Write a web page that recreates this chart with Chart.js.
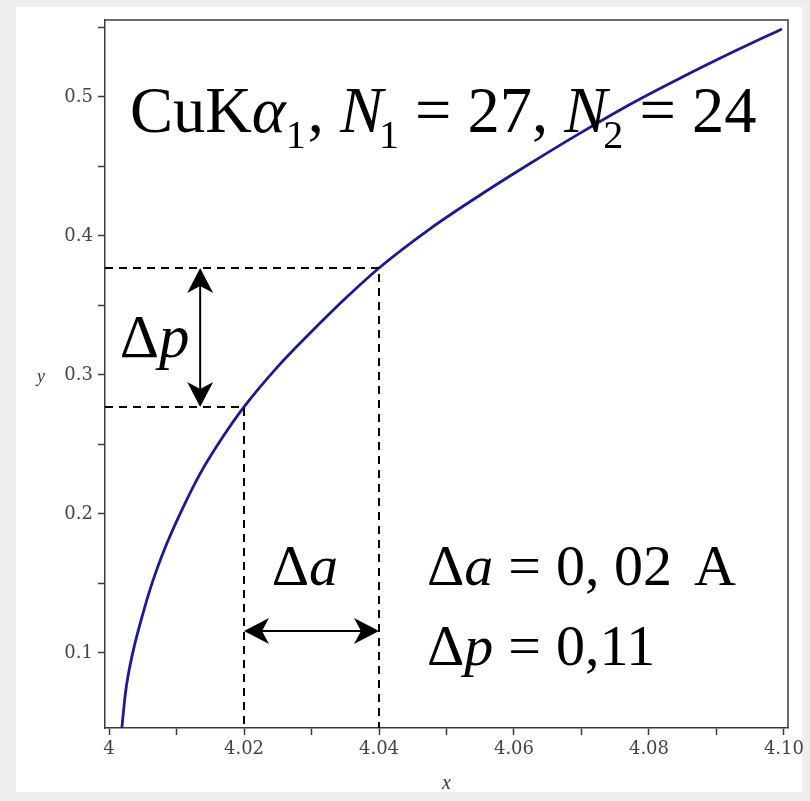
<!DOCTYPE html>
<html>
<head>
<meta charset="utf-8">
<script src="https://cdn.jsdelivr.net/npm/chart.js@4"></script>
<style>
  html, body { margin: 0; padding: 0; background: #eeeeee; }
  canvas { display: block; }
</style>
</head>
<body>
<canvas id="c" width="810" height="801"></canvas>
<script>
// p(a) curve for CuKα1, N1 = 27, N2 = 24
const curveX = [4.0019, 4.0024, 4.0028, 4.0036, 4.0050, 4.0065, 4.0085, 4.0108, 4.0135, 4.0166, 4.0200,
                4.0250, 4.0313, 4.0350, 4.0400, 4.0475, 4.0550, 4.0625, 4.0698, 4.0775, 4.0846, 4.0925, 4.0997];
const curveY = [0.046, 0.070, 0.083, 0.102, 0.128, 0.152, 0.178, 0.203, 0.229, 0.2535, 0.277,
                0.306, 0.3375, 0.355, 0.377, 0.405, 0.4295, 0.4525, 0.474, 0.4955, 0.5135, 0.5325, 0.549];

// axis ticks
const xMajorTicks = [4, 4.02, 4.04, 4.06, 4.08, 4.10];
const xTickLabels = ['4', '4.02', '4.04', '4.06', '4.08', '4.10'];
const xMinorTicks = [4.01, 4.03, 4.05, 4.07, 4.09];
const yMajorTicks = [0.1, 0.2, 0.3, 0.4, 0.5];
const yTickLabels = ['0.1', '0.2', '0.3', '0.4', '0.5'];
const yMinorTicks = [0.15, 0.25, 0.35, 0.45, 0.55];

// Δa interval and the p values it maps to on the curve
const deltaA = [4.02, 4.04];
const deltaP = [0.277, 0.377];

const xRange = [3.9994, 4.1006];
const yRange = [0.0460, 0.5554];

const SERIF = '"Liberation Serif", "Times New Roman", serif';
const TICK_FONT = '"DejaVu Serif", serif';

function labelFor(value, ticks, labels) {
  const i = ticks.findIndex(t => Math.abs(t - value) < 1e-9);
  return i >= 0 ? labels[i] : '';
}

function setTicks(majors, minors) {
  return scale => {
    scale.ticks = majors.concat(minors).sort((a, b) => a - b).map(v => ({ value: v }));
  };
}

// draw a run of text pieces: italic and subscript aware
function richText(ctx, x, y, parts, size) {
  let cx = x;
  ctx.textBaseline = 'alphabetic';
  ctx.textAlign = 'left';
  for (const p of parts) {
    const s = p.sub ? size * 0.62 : size;
    ctx.font = (p.i ? 'italic ' : '') + s + 'px ' + SERIF;
    const dy = p.sub ? size * 0.25 : 0;
    ctx.fillText(p.t, cx + (p.dx || 0), y + dy);
    cx += ctx.measureText(p.t).width + (p.dx || 0) + (p.gap || 0);
  }
}

function arrowHead(ctx, tx, ty, ang) {
  const len = 25, half = 13, notch = 18;
  const c = Math.cos(ang), s = Math.sin(ang);
  const pt = (along, across) => [tx - c * along - s * across, ty - s * along + c * across];
  ctx.beginPath();
  ctx.moveTo(tx, ty);
  ctx.lineTo(...pt(len, half));
  ctx.lineTo(...pt(notch, 0));
  ctx.lineTo(...pt(len, -half));
  ctx.closePath();
  ctx.fill();
}

function doubleArrow(ctx, x1, y1, x2, y2) {
  const ang = Math.atan2(y2 - y1, x2 - x1);
  ctx.save();
  ctx.strokeStyle = '#000';
  ctx.fillStyle = '#000';
  ctx.lineWidth = 2;
  ctx.beginPath();
  ctx.moveTo(x1 + Math.cos(ang) * 10, y1 + Math.sin(ang) * 10);
  ctx.lineTo(x2 - Math.cos(ang) * 10, y2 - Math.sin(ang) * 10);
  ctx.stroke();
  arrowHead(ctx, x2, y2, ang);
  arrowHead(ctx, x1, y1, ang + Math.PI);
  ctx.restore();
}

const framePlugin = {
  id: 'frame',
  beforeDraw(chart) {
    const ctx = chart.ctx;
    ctx.save();
    ctx.fillStyle = '#eeeeee';
    ctx.fillRect(0, 0, chart.width, chart.height);
    ctx.fillStyle = '#ffffff';
    ctx.fillRect(16, 7, 786, 785);
    ctx.restore();
  },
  afterDatasetsDraw(chart) {
    const ctx = chart.ctx;
    const xs = chart.scales.x, ys = chart.scales.y;
    const X = v => xs.getPixelForValue(v);
    const Y = v => ys.getPixelForValue(v);
    const a = chart.chartArea;

    // boxed frame: top and right edges
    ctx.save();
    ctx.strokeStyle = '#3a3a3a';
    ctx.lineWidth = 1.5;
    ctx.beginPath();
    ctx.moveTo(a.left, a.top);
    ctx.lineTo(a.right, a.top);
    ctx.lineTo(a.right, a.bottom);
    ctx.stroke();
    ctx.restore();

    // Δp and Δa arrows
    doubleArrow(ctx, X(4.0135), Y(deltaP[1]), X(4.0135), Y(deltaP[0]));
    doubleArrow(ctx, X(deltaA[0]), Y(0.1158), X(deltaA[1]), Y(0.1158));

    ctx.save();
    ctx.fillStyle = '#000';
    richText(ctx, X(4.0031), Y(0.4748), [
      { t: 'CuK' }, { t: 'α', i: true }, { t: '1', sub: true, gap: 2 }, { t: ', ' },
      { t: 'N', i: true }, { t: '1', sub: true, dx: -4 }, { t: ' = 27, ' },
      { t: 'N', i: true }, { t: '2', sub: true, dx: -4 }, { t: ' = 24' }
    ], 64.5);
    richText(ctx, X(4.0016), Y(0.3129), [{ t: 'Δ' }, { t: 'p', i: true }], 61);
    richText(ctx, X(4.0241), Y(0.149), [{ t: 'Δ' }, { t: 'a', i: true }], 58);
    richText(ctx, X(4.0471), Y(0.149), [
      { t: 'Δ' }, { t: 'a', i: true, gap: 15 }, { t: '=', gap: 15 }, { t: '0, 02', gap: 22 }, { t: 'A' }
    ], 58);
    richText(ctx, X(4.0471), Y(0.0914), [
      { t: 'Δ' }, { t: 'p', i: true, gap: 15 }, { t: '=', gap: 15 }, { t: '0,11' }
    ], 58);

    // y axis name beside the 0.3 label
    ctx.font = 'italic 18px ' + SERIF;
    ctx.fillStyle = '#3c3c3c';
    ctx.textAlign = 'center';
    ctx.textBaseline = 'middle';
    ctx.fillText('y', 41, Y(0.3) + 2);
    ctx.restore();
  }
};

const dashStyle = { borderColor: '#000', borderWidth: 2, borderDash: [8, 6], pointRadius: 0, showLine: true, fill: false };

new Chart(document.getElementById('c'), {
  type: 'scatter',
  data: {
    datasets: [
      Object.assign({ data: [{ x: xRange[0], y: deltaP[1] }, { x: deltaA[1], y: deltaP[1] }, { x: deltaA[1], y: yRange[0] }] }, dashStyle),
      Object.assign({ data: [{ x: xRange[0], y: deltaP[0] }, { x: deltaA[0], y: deltaP[0] }, { x: deltaA[0], y: yRange[0] }] }, dashStyle),
      {
        data: curveX.map((x, i) => ({ x, y: curveY[i] })),
        showLine: true,
        borderColor: '#1a1a96',
        borderWidth: 2.8,
        pointRadius: 0,
        cubicInterpolationMode: 'monotone',
        fill: false
      }
    ]
  },
  options: {
    responsive: false,
    devicePixelRatio: 1,
    animation: false,
    layout: { padding: { left: 0, right: 22, top: 20, bottom: 0 } },
    plugins: { legend: { display: false }, tooltip: { enabled: false } },
    scales: {
      x: {
        type: 'linear',
        min: xRange[0],
        max: xRange[1],
        afterBuildTicks: setTicks(xMajorTicks, xMinorTicks),
        afterFit: s => { s.height = 73; },
        grid: { drawOnChartArea: false, tickLength: 7, tickColor: '#3a3a3a', tickWidth: 1.5 },
        border: { color: '#3a3a3a', width: 1.5 },
        ticks: {
          autoSkip: false, maxRotation: 0, padding: 4, color: '#444',
          font: { family: TICK_FONT, size: 18 },
          callback: v => labelFor(v, xMajorTicks, xTickLabels)
        },
        title: { display: true, text: 'x', color: '#3c3c3c', font: { family: SERIF, size: 20, style: 'italic' }, padding: { top: 0, bottom: 5 } }
      },
      y: {
        type: 'linear',
        min: yRange[0],
        max: yRange[1],
        afterBuildTicks: setTicks(yMajorTicks, yMinorTicks),
        afterFit: s => { s.width = 105; },
        grid: { drawOnChartArea: false, tickLength: 7, tickColor: '#3a3a3a', tickWidth: 1.5 },
        border: { color: '#3a3a3a', width: 1.5 },
        ticks: {
          autoSkip: false, padding: 5, color: '#444',
          font: { family: TICK_FONT, size: 18 },
          callback: v => labelFor(v, yMajorTicks, yTickLabels)
        }
      }
    }
  },
  plugins: [framePlugin]
});
</script>
</body>
</html>
